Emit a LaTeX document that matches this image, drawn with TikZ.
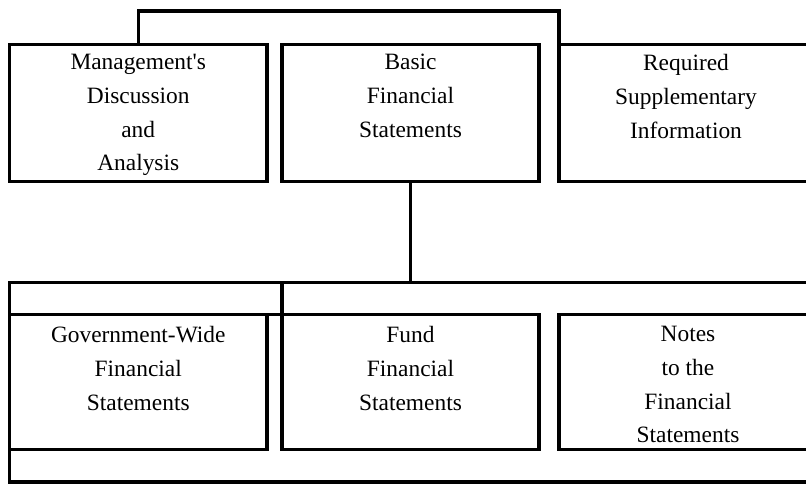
\documentclass[tikz,border=0pt]{standalone}
\usepackage{fontspec}
\setmainfont{Liberation Serif}[Ligatures=TeXOff]
\begin{document}
\begin{tikzpicture}[x=1pt,y=-1pt,
  box/.style={draw, line width=3.8pt, rectangle, inner sep=0pt, outer sep=0pt, minimum width=#1},
  toprow/.style={minimum height=137pt},
  botrow/.style={minimum height=135pt},
  lbl/.style={align=center, inner sep=0pt, anchor=north, font=\fontsize{23.4}{33.8}\selectfont},
  link/.style={line width=3.6pt}]
\useasboundingbox (0,0) rectangle (806,483);
% top row
\node[box=257.5pt, toprow] (mda) at (138.25,113) {};
\node[box=257.6pt, toprow] (bfs) at (410.5,113) {};
\node[box=256pt, toprow] (rsi) at (687,113) {};
% bottom row
\node[box=257.5pt, botrow] (gw) at (138.25,382) {};
\node[box=257.6pt, botrow] (fund) at (410.5,382) {};
\node[box=256pt, botrow] (notes) at (687,382) {};
% labels
\node[lbl] (mdat) at (138.25,54) {Management's\\Discussion\\and\\Analysis};
\node[lbl] (bfst) at (410.5,54) {Basic\\Financial\\Statements};
\node[lbl] (rsit) at (686,54) {Required\\Supplementary\\Information};
\node[lbl] (gwt) at (138.25,326) {Government-Wide\\Financial\\Statements};
\node[lbl] (fundt) at (410.5,326) {Fund\\Financial\\Statements};
\node[lbl] (notest) at (688,326) {Notes\\to the\\Financial\\Statements};
% connectors
\coordinate (tl) at (138.3,10.8);
\coordinate (tr) at (559,10.8);
\draw[link] (mda.north -| tl) -- (tl) -- (tr) -- (rsi.north west);
\coordinate (busL) at (9.5,282.3);
\coordinate (busR) at (830,282.3);
\coordinate (botL) at (9.5,481.7);
\coordinate (botR) at (830,481.7);
\draw[link] (bfs.south) -- (bfs.south |- busL);
\draw[link] (busR) -- (busL) -- (botL) -- (botR);
\draw[link] (gw.north west) -- (fund.north west);
\draw[link] (fund.north west) -- (fund.north west |- busL);
\end{tikzpicture}
\end{document}
